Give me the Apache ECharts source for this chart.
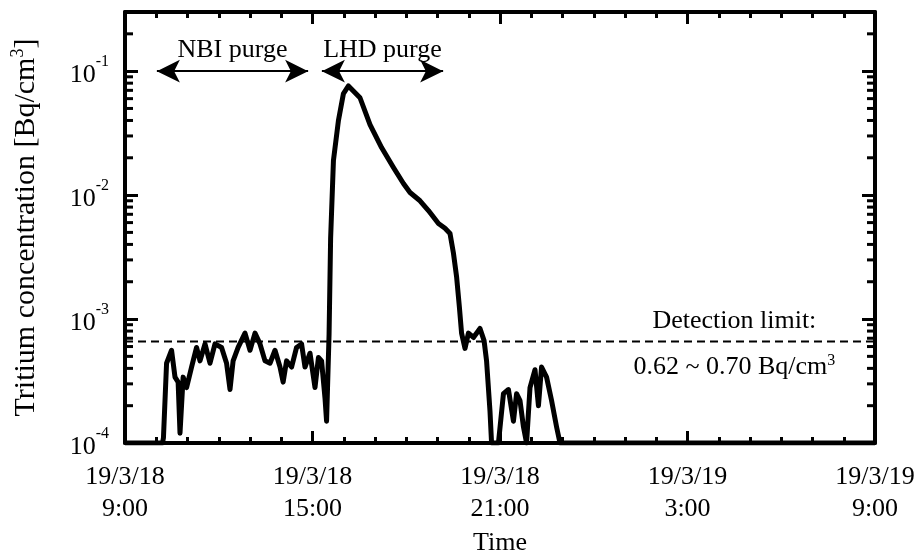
<!DOCTYPE html>
<html>
<head>
<meta charset="utf-8">
<script src="https://cdn.jsdelivr.net/npm/echarts@6/dist/echarts.min.js"></script>
<style>
  html, body { margin: 0; background: #fff; }
  #chart { width: 920px; height: 558px; }
</style>
</head>
<body>
<div id="chart"></div>
<script>
// hours after 19/3/18 9:00
var hours = [
  0, 1.2, 1.23, 1.33, 1.49, 1.6, 1.7, 1.76, 1.86, 1.97, 2.13, 2.29, 2.4, 2.56,
  2.72, 2.88, 3.09, 3.25, 3.36, 3.46, 3.62, 3.84, 4.0, 4.16, 4.32, 4.48, 4.64,
  4.8, 4.96, 5.06, 5.17, 5.33, 5.49, 5.65, 5.76, 5.92, 6.08, 6.19, 6.29, 6.4,
  6.45, 6.53, 6.58, 6.67, 6.83, 6.99, 7.15, 7.52, 7.84, 8.21, 8.59, 8.91, 9.12,
  9.44, 9.71, 10.03, 10.24, 10.4, 10.51, 10.61, 10.7, 10.77, 10.88, 10.99, 11.15,
  11.36, 11.49, 11.57, 11.68, 11.73, 11.95, 12.11, 12.27, 12.43, 12.53, 12.64,
  12.75, 12.85, 12.96, 13.12, 13.23, 13.33, 13.49, 13.65, 13.81, 13.92, 24
];
var conc = [
  1e-4, 1e-4, 1.1e-4, 4.4e-4, 5.6e-4, 3.4e-4, 3.1e-4, 1.2e-4, 3.4e-4, 2.8e-4,
  4.1e-4, 5.9e-4, 4.6e-4, 6.3e-4, 4.4e-4, 6.3e-4, 5.9e-4, 4.4e-4, 2.7e-4,
  4.6e-4, 5.9e-4, 7.7e-4, 5.6e-4, 7.7e-4, 6.3e-4, 4.6e-4, 4.4e-4, 5.6e-4,
  4.1e-4, 3.1e-4, 4.6e-4, 4.1e-4, 5.9e-4, 6.3e-4, 4.1e-4, 5.3e-4, 2.8e-4,
  4.9e-4, 4.6e-4, 2.3e-4, 1.5e-4, 7.5e-4, 4.5e-3, 0.019, 0.04, 0.066, 0.076,
  0.061, 0.037, 0.0242, 0.0167, 0.0124, 0.0105, 0.009, 0.0075, 0.0059, 0.0054,
  0.0049, 0.0034, 0.0022, 0.00125, 7.7e-4, 5.8e-4, 7.7e-4, 7.1e-4, 8.4e-4,
  6.7e-4, 4.6e-4, 1.8e-4, 1e-4, 1e-4, 2.5e-4, 2.7e-4, 1.5e-4, 2.5e-4, 2.2e-4,
  1.35e-4, 1e-4, 2.8e-4, 3.9e-4, 2e-4, 4.1e-4, 3.4e-4, 2.2e-4, 1.35e-4, 1e-4, 1e-4
];

var tickHours = [0, 6, 12, 18, 24];
var tickLabels = ['19/3/18\n9:00', '19/3/18\n15:00', '19/3/18\n21:00', '19/3/19\n3:00', '19/3/19\n9:00'];
var decades = [1e-4, 1e-3, 1e-2, 1e-1];
var yMin = 1e-4, yMax = 0.3;

var detectionLimit = 6.6e-4;
var detectionText = ['Detection limit:', '0.62 ~ 0.70 Bq/cm{sup|3}'];
var detectionTextHour = 19.5;

var purgeNames = ['NBI purge', 'LHD purge'];
var purgeFrom = [1.02, 6.3];
var purgeTo = [5.86, 10.18];
var purgeLevel = 0.1;

// 2..9 x 10^n positions for the short log ticks
var minors = [];
decades.forEach(function (d) {
  for (var k = 2; k <= 9; k++) {
    if (k * d < yMax) minors.push(k * d);
  }
});

var FONT = "'Liberation Serif', 'Times New Roman', serif";
var black = '#000';

function xAxis(pos, labels) {
  return {
    type: 'value', position: pos, min: 0, max: 24, interval: 6,
    axisLine: { show: true, onZero: false, lineStyle: { color: black, width: 4 } },
    axisTick: { inside: true, length: 12, lineStyle: { color: black, width: 3 } },
    minorTick: { show: true, splitNumber: 6, length: 6, lineStyle: { color: black, width: 3 } },
    splitLine: { show: false },
    axisLabel: {
      show: labels, margin: 18, color: black, fontFamily: FONT, fontSize: 26, lineHeight: 32,
      formatter: function (v) { return tickLabels[tickHours.indexOf(v)]; }
    },
    name: labels ? 'Time' : '', nameLocation: 'middle', nameGap: 84,
    nameTextStyle: { color: black, fontFamily: FONT, fontSize: 26 }
  };
}

function yAxis(pos, labels) {
  return {
    type: 'log', position: pos, min: yMin, max: yMax, logBase: 10,
    axisLine: { show: true, onZero: false, lineStyle: { color: black, width: 4 } },
    axisTick: {
      show: true, inside: true, length: 13,
      customValues: decades,
      lineStyle: { color: black, width: 3 }
    },
    minorTick: { show: false },
    splitLine: { show: false },
    axisLabel: {
      show: labels, customValues: decades, margin: 16, color: black, fontFamily: FONT,
      formatter: function (v) {
        return '{b|10}{sup|' + Math.round(Math.log10(v)) + '}';
      },
      rich: {
        b: { fontSize: 26, fontFamily: FONT, color: black, lineHeight: 34, verticalAlign: 'bottom' },
        sup: { fontSize: 16, fontFamily: FONT, color: black, lineHeight: 34, verticalAlign: 'top' }
      }
    },
    name: labels ? 'Tritium concentration [Bq/cm{sup|3}]' : '',
    nameLocation: 'middle', nameGap: 82,
    nameTextStyle: {
      color: black, fontFamily: FONT, fontSize: 30,
      rich: { sup: { fontSize: 18, fontFamily: FONT, color: black, verticalAlign: 'top', lineHeight: 34 } }
    }
  };
}

// short ticks on the frame, drawn as small bars at the two x ends
function tickSeries(xEnd, dx) {
  return {
    type: 'scatter',
    xAxisIndex: 0, yAxisIndex: 0,
    silent: true,
    clip: false,
    z: 10,
    symbol: 'rect',
    symbolSize: [8, 3],
    symbolOffset: [dx, 0],
    itemStyle: { color: black, opacity: 1 },
    data: minors.map(function (v) { return [xEnd, v]; })
  };
}

var chart = echarts.init(document.getElementById('chart'), null, { renderer: 'canvas' });

chart.setOption({
  backgroundColor: '#fff',
  animation: false,
  grid: { left: 125, right: 45, top: 12, bottom: 115, containLabel: false, outerBoundsMode: 'none' },
  xAxis: [xAxis('bottom', true), xAxis('top', false)],
  yAxis: [yAxis('left', true), yAxis('right', false)],
  series: [
    {
      type: 'line',
      xAxisIndex: 0, yAxisIndex: 0,
      data: hours.map(function (h, i) { return [h, conc[i]]; }),
      showSymbol: false,
      lineStyle: { color: black, width: 5, join: 'round' },
      z: 5,
      markLine: {
        silent: true,
        symbol: ['arrow', 'arrow'],
        symbolSize: [17, 23],
        lineStyle: { color: black, width: 2, type: 'solid' },
        itemStyle: { color: black },
        label: {
          show: true, position: 'middle', distance: 8, formatter: '{b}',
          color: black, fontFamily: FONT, fontSize: 26
        },
        data: purgeNames.map(function (n, i) {
          return [
            { name: n, coord: [purgeFrom[i], purgeLevel] },
            { coord: [purgeTo[i], purgeLevel] }
          ];
        })
      }
    },
    {
      type: 'line',
      xAxisIndex: 0, yAxisIndex: 0,
      data: [[0, detectionLimit], [24, detectionLimit]],
      showSymbol: false,
      lineStyle: { color: black, width: 2, type: [8, 5] },
      z: 3,
      markPoint: {
        silent: true,
        symbol: 'circle', symbolSize: 0,
        label: { show: true, color: black, fontFamily: FONT, fontSize: 26 },
        data: [
          { coord: [detectionTextHour, detectionLimit], label: { formatter: detectionText[0], offset: [0, -20] } },
          {
            coord: [detectionTextHour, detectionLimit],
            label: {
              formatter: detectionText[1], offset: [0, 26],
              rich: { sup: { fontSize: 16, fontFamily: FONT, color: black, verticalAlign: 'top', lineHeight: 30 } }
            }
          }
        ]
      }
    },
    tickSeries(0, 4),
    tickSeries(24, -4)
  ]
});
</script>
</body>
</html>
